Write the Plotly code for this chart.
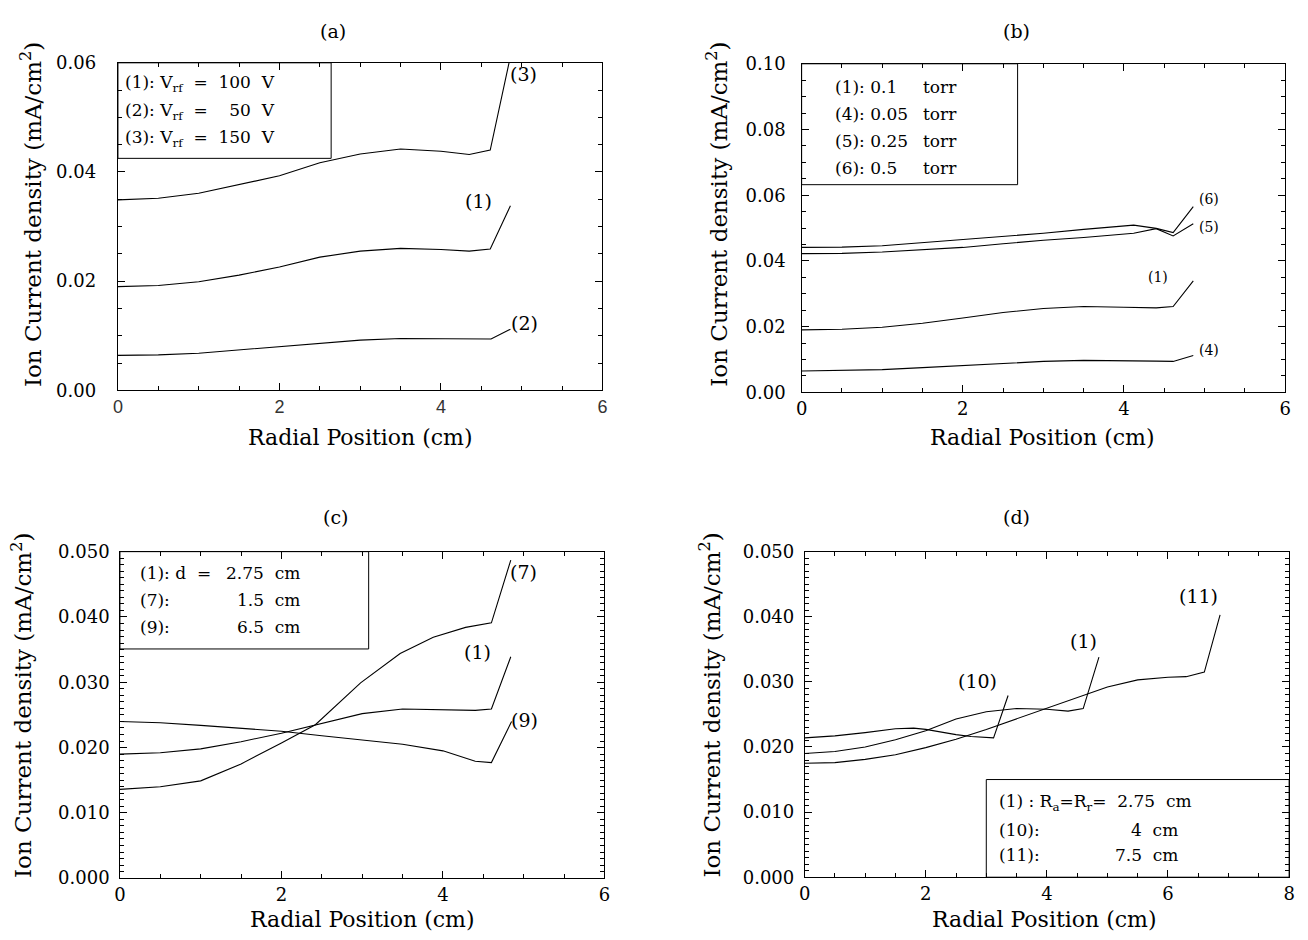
import plotly.graph_objects as go

# ---------------- data ----------------
# panel (a): V_rf
a_x1 = [0, 0.5, 1.0, 1.5, 2.0, 2.5, 3.0, 3.5, 4.0, 4.35, 4.61, 4.86]
a_y1 = [0.0190, 0.0192, 0.0199, 0.0211, 0.0226, 0.0244, 0.0255, 0.0260, 0.0258, 0.0255, 0.0259, 0.0338]
a_x2 = [0, 0.5, 1.0, 1.5, 2.0, 2.5, 3.0, 3.5, 4.0, 4.35, 4.62, 4.86]
a_y2 = [0.0064, 0.0065, 0.0068, 0.0074, 0.0080, 0.0086, 0.0092, 0.0095, 0.0094, 0.0094, 0.0094, 0.0112]
a_x3 = [0, 0.5, 1.0, 1.5, 2.0, 2.5, 3.0, 3.5, 4.0, 4.35, 4.61, 4.85]
a_y3 = [0.0349, 0.0352, 0.0361, 0.0377, 0.0393, 0.0417, 0.0433, 0.0442, 0.0438, 0.0432, 0.0440, 0.0605]

# panel (b): pressure
b_x1 = [0, 0.5, 1, 1.5, 2, 2.5, 3, 3.5, 4, 4.4, 4.61, 4.86]
b_y1 = [0.0190, 0.0192, 0.0198, 0.0210, 0.0226, 0.0243, 0.0255, 0.0261, 0.0259, 0.0257, 0.0261, 0.0339]
b_x4 = [0, 0.5, 1, 1.5, 2, 2.5, 3, 3.5, 4, 4.4, 4.61, 4.86]
b_y4 = [0.0065, 0.0066, 0.0069, 0.0075, 0.0082, 0.0088, 0.0094, 0.0097, 0.0097, 0.0095, 0.0094, 0.0112]
b_x5 = [0, 0.5, 1, 1.5, 2, 2.5, 3, 3.5, 4, 4.12, 4.4, 4.61, 4.86]
b_y5 = [0.0422, 0.0423, 0.0427, 0.0434, 0.0441, 0.0452, 0.0463, 0.0471, 0.0481, 0.0484, 0.0498, 0.0476, 0.0513]
b_x6 = [0, 0.5, 1, 1.5, 2, 2.5, 3, 3.5, 4, 4.12, 4.4, 4.61, 4.86]
b_y6 = [0.0441, 0.0442, 0.0446, 0.0455, 0.0464, 0.0474, 0.0484, 0.0496, 0.0506, 0.0509, 0.0499, 0.0486, 0.0565]

# panel (c): gap d
c_x1 = [0, 0.5, 1, 1.5, 2, 2.5, 3, 3.5, 4, 4.4, 4.6, 4.84]
c_y1 = [0.0190, 0.0192, 0.0198, 0.0209, 0.0222, 0.0237, 0.0252, 0.0259, 0.0258, 0.0257, 0.0259, 0.0339]
c_x7 = [0, 0.5, 1, 1.5, 2, 2.42, 2.98, 3.47, 3.88, 4.28, 4.6, 4.84]
c_y7 = [0.0136, 0.0140, 0.0149, 0.0175, 0.0207, 0.0235, 0.0299, 0.0344, 0.0369, 0.0384, 0.0391, 0.0487]
c_x9 = [0, 0.5, 1, 1.5, 2, 2.5, 3, 3.5, 4, 4.4, 4.6, 4.85]
c_y9 = [0.0240, 0.0238, 0.0234, 0.0230, 0.0225, 0.0218, 0.0212, 0.0205, 0.0195, 0.0179, 0.0177, 0.0240]

# panel (d): electrode radius
d_x1 = [0, 0.5, 1, 1.5, 2, 2.5, 3, 3.5, 4, 4.35, 4.6, 4.86]
d_y1 = [0.0190, 0.0193, 0.0200, 0.0211, 0.0225, 0.0243, 0.0254, 0.0259, 0.0258, 0.0255, 0.0259, 0.0338]
d_x10 = [0, 0.5, 1, 1.5, 1.8, 2, 2.5, 2.75, 3.12, 3.36]
d_y10 = [0.0214, 0.0217, 0.0222, 0.0228, 0.0229, 0.0227, 0.0219, 0.0216, 0.0214, 0.0279]
d_x11 = [0, 0.5, 1, 1.5, 2, 2.5, 3, 3.5, 4, 4.5, 5, 5.5, 6, 6.3, 6.6, 6.86]
d_y11 = [0.0175, 0.0176, 0.0181, 0.0188, 0.0199, 0.0212, 0.0227, 0.0243, 0.0259, 0.0276, 0.0292, 0.0303, 0.0307, 0.0308, 0.0315, 0.0403]

NB = "\u00a0"
panel_titles = ["(a)", "(b)", "(c)", "(d)"]
x_title = "Radial Position (cm)"
y_title = "Ion Current density (mA/cm<sup>2</sup>)"

legend_a = ["(1):" + NB + "V<sub>rf</sub>" + NB * 2 + "=" + NB * 2 + "100" + NB * 2 + "V",
            "(2):" + NB + "V<sub>rf</sub>" + NB * 2 + "=" + NB * 4 + "50" + NB * 2 + "V",
            "(3):" + NB + "V<sub>rf</sub>" + NB * 2 + "=" + NB * 2 + "150" + NB * 2 + "V"]
legend_b_id = ["(1):" + NB + "0.1", "(4):" + NB + "0.05", "(5):" + NB + "0.25", "(6):" + NB + "0.5"]
legend_b_unit = ["torr", "torr", "torr", "torr"]
legend_c_id = ["(1):" + NB + "d" + NB * 2 + "=", "(7):", "(9):"]
legend_c_val = ["2.75" + NB * 2 + "cm", "1.5" + NB * 2 + "cm", "6.5" + NB * 2 + "cm"]
legend_d_id = ["(1)" + NB + ":" + NB + "R<sub>a</sub>=R<sub>r</sub>=" + NB * 2 + "2.75" + NB * 2 + "cm", "(10):", "(11):"]
legend_d_val = ["", "4" + NB * 2 + "cm", "7.5" + NB * 2 + "cm"]

# ---------------- figure ----------------
W, H = 1308, 940
FONT = "DejaVu Serif"


def px(v):
    return v / W


def py(v):
    return 1 - v / H


fig = go.Figure()

# plot-area rectangles in pixels: (left, right, top, bottom)
areas = {
    "1": (113, 602, 53, 388),
    "2": (803, 1291, 54, 390),
    "3": (115, 604, 553, 887),
    "4": (806, 1295, 553, 886),
}
ranges = {
    "1": ([0, 6], [0, 0.06], 2, 0.5, 0.02, 0.005, ".2f", 3),
    "2": ([0, 6], [0, 0.10], 2, 0.5, 0.02, 0.005, ".2f", 2),
    "3": ([0, 6], [0, 0.05], 2, 0.5, 0.01, 0.001, ".3f", 1),
    "4": ([0, 8], [0, 0.05], 2, 0.5, 0.01, 0.001, ".3f", 1),
}

layout = {}
for k, (l, r, t, b) in areas.items():
    xr, yr, xd, xm, yd, ym, yf, nsp = ranges[k]
    suffix = "" if k == "1" else k
    base = dict(showline=True, linecolor="black", linewidth=1, mirror="allticks",
                ticks="inside", ticklen=7, tickwidth=1, tickcolor="black",
                showgrid=False, zeroline=False)
    layout["xaxis" + suffix] = dict(
        base, domain=[px(l), px(r)], anchor="y" + suffix, range=xr,
        tick0=0, dtick=xd,
        tickfont=dict(family=FONT, size=18, color="black"),
        minor=dict(dtick=xm, ticks="inside", ticklen=4, tickcolor="black"),
    )
    layout["yaxis" + suffix] = dict(
        base, domain=[py(b), py(t)], anchor="x" + suffix, range=yr,
        tick0=0, dtick=yd, tickformat=yf, ticksuffix=NB * nsp,
        tickfont=dict(family=FONT, size=18, color="black"),
        minor=dict(dtick=ym, ticks="inside", ticklen=4, tickcolor="black"),
    )

layout["xaxis"]["tickfont"] = dict(family="Liberation Sans", size=18, color="#333333")

line = dict(color="black", width=1.1)
series = [
    ("1", a_x1, a_y1), ("1", a_x2, a_y2), ("1", a_x3, a_y3),
    ("2", b_x1, b_y1), ("2", b_x4, b_y4), ("2", b_x5, b_y5), ("2", b_x6, b_y6),
    ("3", c_x1, c_y1), ("3", c_x7, c_y7), ("3", c_x9, c_y9),
    ("4", d_x1, d_y1), ("4", d_x10, d_y10), ("4", d_x11, d_y11),
]
for k, xs, ys in series:
    s = "" if k == "1" else k
    fig.add_trace(go.Scatter(x=xs, y=ys, mode="lines", line=line,
                             xaxis="x" + s, yaxis="y" + s, showlegend=False))

ann = []
shapes = []


def txt(text, x, y, k, size=17, xanchor="left", yanchor="middle"):
    s = "" if k == "1" else k
    ann.append(dict(text=text, x=x, y=y, xref="x" + s, yref="y" + s,
                    showarrow=False, xanchor=xanchor, yanchor=yanchor,
                    font=dict(family=FONT, size=size, color="black")))


def box(k, x0, x1, y0, y1):
    s = "" if k == "1" else k
    shapes.append(dict(type="rect", xref="x" + s, yref="y" + s, x0=x0, x1=x1,
                       y0=y0, y1=y1, line=dict(color="black", width=1)))


# panel (a)
box("1", 0, 2.64, 0.0425, 0.06)
for t, yy in zip(legend_a, [0.0562, 0.0511, 0.0461]):
    txt(t, 0.06, yy, "1", size=17)
txt("(3)", 5.02, 0.0579, "1", 19, "center")
txt("(1)", 4.46, 0.0347, "1", 19, "center")
txt("(2)", 5.03, 0.0124, "1", 19, "center")

# panel (b)
box("2", 0, 2.68, 0.0632, 0.10)
for t, u, yy in zip(legend_b_id, legend_b_unit, [0.0930, 0.0848, 0.0766, 0.0682]):
    txt(t, 0.39, yy, "2", size=17)
    txt(u, 1.48, yy, "2", size=17)
txt("(6)", 5.05, 0.0587, "2", 14, "center")
txt("(5)", 5.05, 0.0503, "2", 14, "center")
txt("(1)", 4.42, 0.0352, "2", 14, "center")
txt("(4)", 5.05, 0.0129, "2", 14, "center")

# panel (c)
box("3", 0, 3.08, 0.0351, 0.05)
for t, v, yy in zip(legend_c_id, legend_c_val, [0.0468, 0.0426, 0.0384]):
    txt(t, 0.22, yy, "3", size=17)
    txt(v, 2.25, yy, "3", size=17, xanchor="right")
txt("(7)", 5.0, 0.0469, "3", 19, "center")
txt("(1)", 4.43, 0.0347, "3", 19, "center")
txt("(9)", 5.01, 0.0242, "3", 19, "center")

# panel (d)
box("4", 3.0, 8.0, 0.0, 0.0150)
for t, v, yy in zip(legend_d_id, legend_d_val, [0.0114, 0.0073, 0.0034]):
    txt(t, 3.18, yy, "4", size=17)
    if v:
        txt(v, 6.2, yy, "4", size=17, xanchor="right")
txt("(11)", 6.5, 0.0432, "4", 19, "center")
txt("(1)", 4.61, 0.0363, "4", 19, "center")
txt("(10)", 2.86, 0.0302, "4", 19, "center")

# panel titles, axis titles (paper coordinates)
for t, (cx, cy) in zip(panel_titles, [(330, 20), (1020, 20), (333, 518), (1020, 518)]):
    ann.append(dict(text=t, x=px(cx), y=py(cy), xref="paper", yref="paper",
                    showarrow=False, xanchor="center", yanchor="middle",
                    font=dict(family=FONT, size=19, color="black")))
for (cx, cy) in [(358, 436), (1046, 436), (360, 929), (1048, 929)]:
    ann.append(dict(text=x_title, x=px(cx), y=py(cy), xref="paper", yref="paper",
                    showarrow=False, xanchor="center", yanchor="middle",
                    font=dict(family=FONT, size=22, color="black")))
for (cx, cy) in [(26, 208), (718, 208), (16, 710), (711, 710)]:
    ann.append(dict(text=y_title, x=px(cx), y=py(cy), xref="paper", yref="paper",
                    showarrow=False, xanchor="center", yanchor="middle", textangle=-90,
                    font=dict(family=FONT, size=23, color="black")))

fig.update_layout(
    width=W, height=H, margin=dict(l=0, r=0, t=0, b=0),
    plot_bgcolor="white",
    annotations=ann, shapes=shapes, showlegend=False,
    **layout,
)

fig.write_html("out.html")
